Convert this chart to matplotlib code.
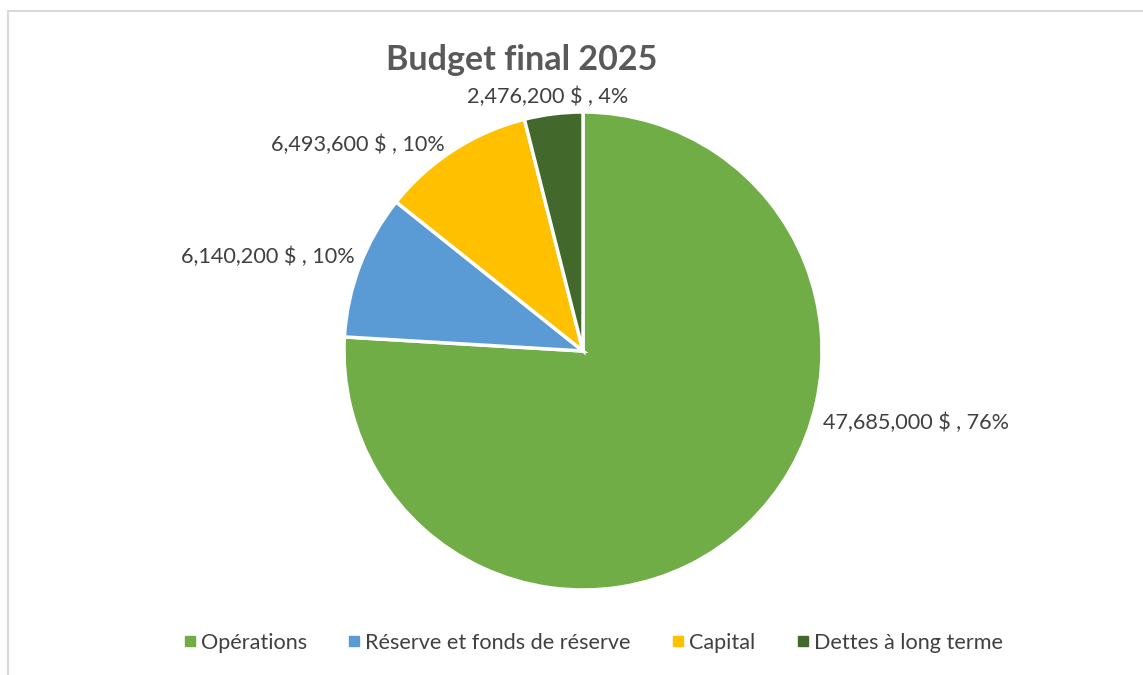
import matplotlib.pyplot as plt
from matplotlib.patches import Rectangle
from matplotlib.lines import Line2D

plt.rcParams['font.family'] = ['Lato', 'DejaVu Sans']

# données
categories = ["Opérations", "Réserve et fonds de réserve", "Capital", "Dettes à long terme"]
valeurs = [47685000, 6140200, 6493600, 2476200]
couleurs = ["#70AD47", "#5B9BD5", "#FFC000", "#43682B"]
titre = "Budget final 2025"

W, H = 1143, 675
fig = plt.figure(figsize=(W / 100, H / 100), dpi=100)

# cadre du graphique (coupé à droite et en bas)
fig.patches.append(Rectangle((8 / W, -0.2), 1.2, 1.2 - 11 / H, transform=fig.transFigure,
                             fill=False, edgecolor="#D9D9D9", linewidth=1.5))

# camembert : centre (583, 351), rayon 239 px
r = 239
ax = fig.add_axes([(583 - r) / W, (H - 351 - r) / H, 2 * r / W, 2 * r / H])
wedges, _ = ax.pie(valeurs, colors=couleurs, startangle=90, counterclock=False, radius=1,
                   wedgeprops=dict(edgecolor="white", linewidth=2.5))
ax.set_xlim(-1, 1)
ax.set_ylim(-1, 1)
ax.set_aspect("equal")
ax.axis("off")

# étiquettes
total = sum(valeurs)
pos_etiquettes = [(916, 423), (268, 257), (358, 145), (548, 97)]
for v, (px, py) in zip(valeurs, pos_etiquettes):
    txt = f"{v:,} $ , {round(100 * v / total)}%"
    fig.text(px / W, 1 - py / H, txt, ha="center", va="center", fontsize=15.6, color="#404040")

fig.text(522 / W, 1 - 60 / H, titre, ha="center", va="center", fontsize=24.5,
         fontweight="bold", color="#595959")

# légende
poignees = [Line2D([], [], marker="s", linestyle="none", markersize=7, color=c) for c in couleurs]
fig.legend(poignees, categories, loc="center", bbox_to_anchor=(591 / W, 1 - 643 / H), ncol=4,
           frameon=False, fontsize=15.6, labelcolor="#404040", handletextpad=0.0,
           columnspacing=1.7, handlelength=1.0)

fig.savefig("out.png", dpi=100)
